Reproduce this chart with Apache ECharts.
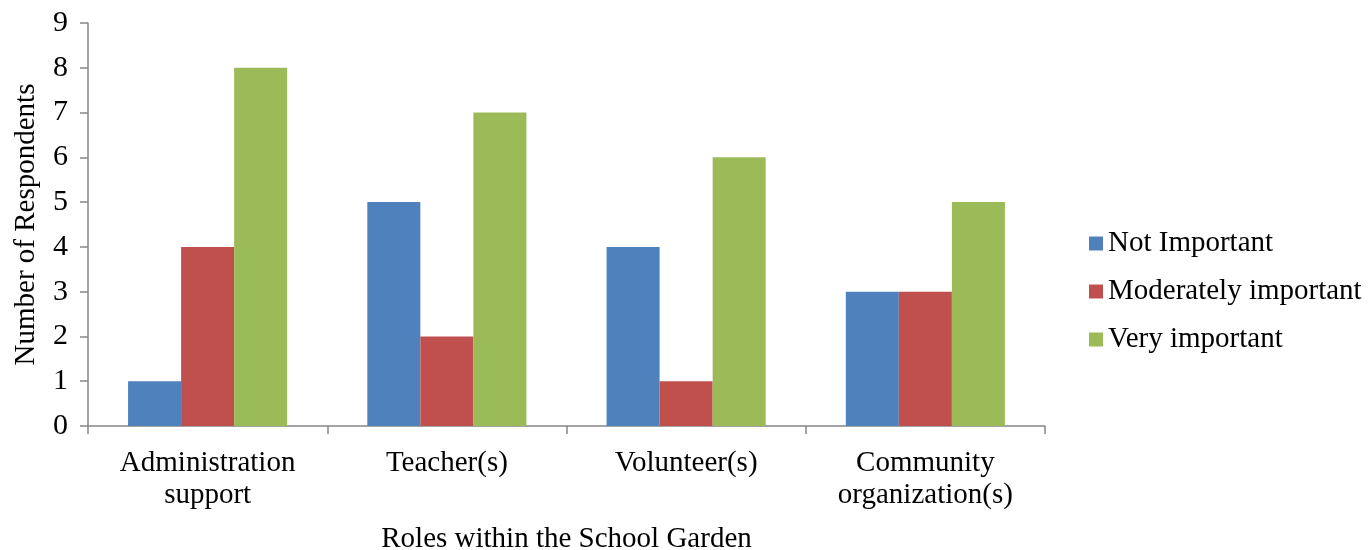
<!DOCTYPE html>
<html>
<head>
<meta charset="utf-8">
<script src="https://cdn.jsdelivr.net/npm/echarts@6/dist/echarts.min.js"></script>
<style>
  html, body { margin: 0; padding: 0; background: #fff; }
  #chart { width: 1369px; height: 550px; }
</style>
</head>
<body>
<div id="chart"></div>
<script>
var categories = ['Administration\nsupport', 'Teacher(s)', 'Volunteer(s)', 'Community\norganization(s)'];
var notImportant = [1, 5, 4, 3];
var moderatelyImportant = [4, 2, 1, 3];
var veryImportant = [8, 7, 6, 5];
var yTicks = [0, 1, 2, 3, 4, 5, 6, 7, 8, 9];

var font = '"Liberation Serif", "Times New Roman", serif';
var axisGray = '#868686';

var chart = echarts.init(document.getElementById('chart'));
chart.setOption({
  animation: false,
  textStyle: { fontFamily: font, color: '#000' },
  grid: { left: 88, right: 324, top: 23, bottom: 124, containLabel: false, outerBoundsMode: 'none' },
  legend: {
    orient: 'vertical',
    left: 1084,
    top: 224,
    itemWidth: 14,
    itemHeight: 14,
    itemGap: 19,
    icon: 'rect',
    textStyle: { fontFamily: font, fontSize: 29, color: '#000' },
    data: ['Not Important', 'Moderately important', 'Very important']
  },
  xAxis: {
    type: 'category',
    data: categories,
    name: 'Roles within the School Garden',
    nameLocation: 'middle',
    nameGap: 99,
    nameTextStyle: { fontFamily: font, fontSize: 29, color: '#000' },
    axisLine: { lineStyle: { color: axisGray, width: 1.5 } },
    axisTick: { show: true, length: 8, lineStyle: { color: axisGray, width: 1.5 } },
    axisLabel: { fontFamily: font, fontSize: 29, color: '#000', margin: 21, lineHeight: 32 }
  },
  yAxis: {
    type: 'value',
    min: yTicks[0],
    max: yTicks[yTicks.length - 1],
    interval: 1,
    name: 'Number of Respondents',
    nameLocation: 'middle',
    nameGap: 47,
    nameTextStyle: { fontFamily: font, fontSize: 29, color: '#000' },
    splitLine: { show: false },
    axisLine: { show: true, lineStyle: { color: axisGray, width: 1.5 } },
    axisTick: { show: true, inside: false, length: 8, lineStyle: { color: axisGray, width: 1.5 } },
    axisLabel: { fontFamily: font, fontSize: 30, color: '#000', margin: 20 }
  },
  series: [
    { name: 'Not Important', type: 'bar', data: notImportant, barGap: '0%', barCategoryGap: '33.5%', itemStyle: { color: '#4F81BD' } },
    { name: 'Moderately important', type: 'bar', data: moderatelyImportant, itemStyle: { color: '#C0504D' } },
    { name: 'Very important', type: 'bar', data: veryImportant, itemStyle: { color: '#9BBB59' } }
  ]
});
</script>
</body>
</html>
